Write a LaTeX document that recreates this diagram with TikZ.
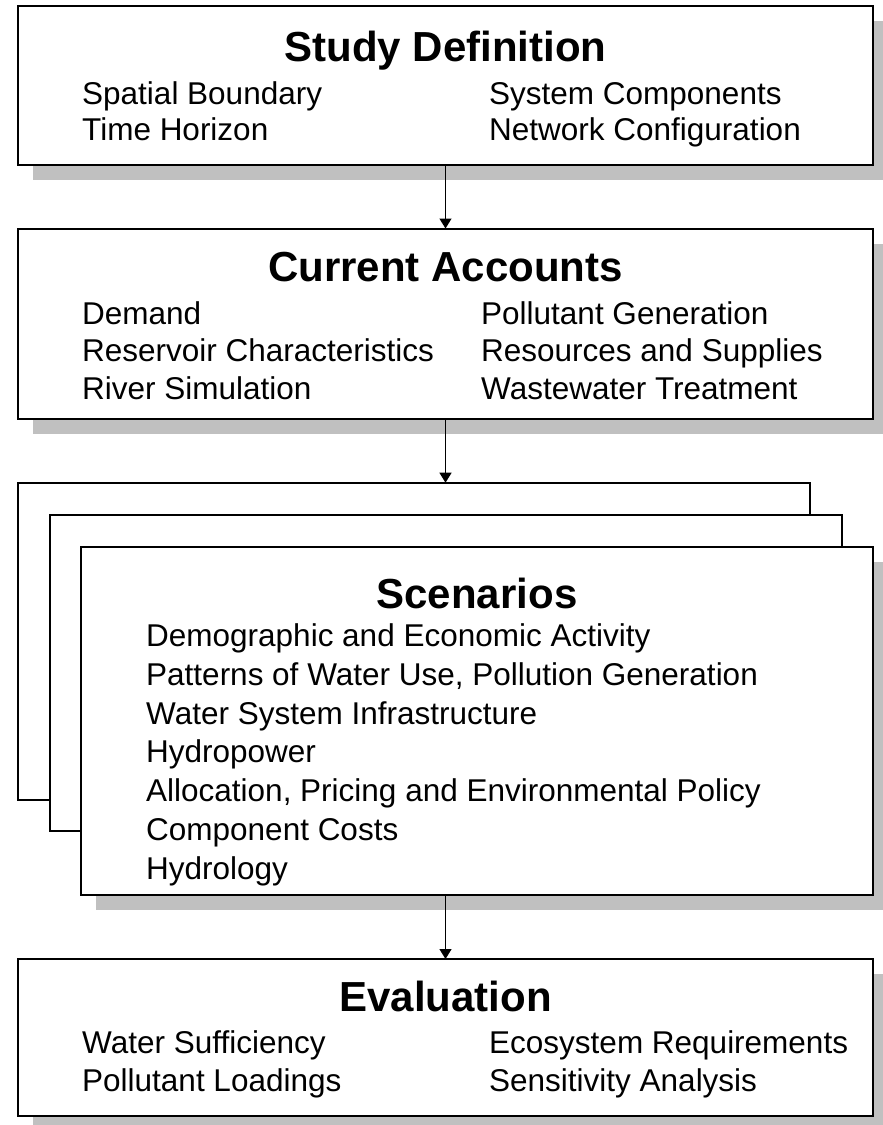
\documentclass[tikz,border=0pt]{standalone}
\usepackage{fontspec}
\setmainfont{Liberation Sans}
\usetikzlibrary{arrows.meta,shadows}
\definecolor{shadowgray}{RGB}{192,192,192}
\begin{document}
\begin{tikzpicture}[x=1pt,y=-1pt,
  box/.style={draw=black,line width=2pt,fill=white,rectangle,inner sep=0pt,outer sep=0pt},
  shadowed/.style={drop shadow={shadow xshift=15pt,shadow yshift=-15pt,fill=shadowgray,opacity=1}},
  title/.style={anchor=base,inner sep=0pt,font=\fontsize{42}{48}\selectfont\bfseries},
  item/.style={anchor=base west,inner sep=0pt,font=\fontsize{31.5}{36}\selectfont},
  flow/.style={line width=1.3pt,-{Triangle[length=10pt,width=12pt]}}]
\useasboundingbox (0,0) rectangle (883,1125);

% Study Definition
\node[box,shadowed,minimum width=855pt,minimum height=159pt] (b1) at (445.5,85.5) {};
\node[title] (t1) at (445.5,61.7) {Study Definition};
\node[item] (i11) at (82,104) {Spatial Boundary};
\node[item] (i12) at (82,140.5) {Time Horizon};
\node[item] (i13) at (489,104) {System Components};
\node[item] (i14) at (489,140.5) {Network Configuration};

% Current Accounts
\node[box,shadowed,minimum width=855pt,minimum height=190.5pt] (b2) at (445.5,323.75) {};
\node[title] (t2) at (445.5,281.7) {Current Accounts};
\node[item] (i21) at (82,324) {Demand};
\node[item] (i22) at (82,361.7) {Reservoir Characteristics};
\node[item] (i23) at (82,399.3) {River Simulation};
\node[item] (i24) at (481,324) {Pollutant Generation};
\node[item] (i25) at (481,361.7) {Resources and Supplies};
\node[item] (i26) at (481,399.3) {Wastewater Treatment};

% Scenarios (stacked)
\node[box,minimum width=792pt,minimum height=317.3pt] (bA) at (414,641.35) {};
\node[box,minimum width=792.5pt,minimum height=316.5pt] (bB) at (445.75,672.75) {};
\node[box,shadowed,minimum width=792pt,minimum height=348.5pt] (bC) at (477,720.75) {};
\node[title] (t3) at (477,608.3) {Scenarios};
\node[item] (i31) at (146,646.5) {Demographic and Economic Activity};
\node[item] (i32) at (146,685.25) {Patterns of Water Use, Pollution Generation};
\node[item] (i33) at (146,724) {Water System Infrastructure};
\node[item] (i34) at (146,762.75) {Hydropower};
\node[item] (i35) at (146,801.5) {Allocation, Pricing and Environmental Policy};
\node[item] (i36) at (146,840.25) {Component Costs};
\node[item] (i37) at (146,879) {Hydrology};

% Evaluation
\node[box,shadowed,minimum width=855pt,minimum height=157pt] (b4) at (445.5,1037.5) {};
\node[title] (t4) at (445.5,1011) {Evaluation};
\node[item] (i41) at (82,1053) {Water Sufficiency};
\node[item] (i42) at (82,1091.5) {Pollutant Loadings};
\node[item] (i43) at (489,1053) {Ecosystem Requirements};
\node[item] (i44) at (489,1091.5) {Sensitivity Analysis};

% connectors
\draw[flow] (b1.south) -- (b2.north);
\draw[flow] (b2.south) -- (b2.south |- bA.north);
\draw[flow] (b2.south |- bC.south) -- (b4.north);
\end{tikzpicture}
\end{document}
